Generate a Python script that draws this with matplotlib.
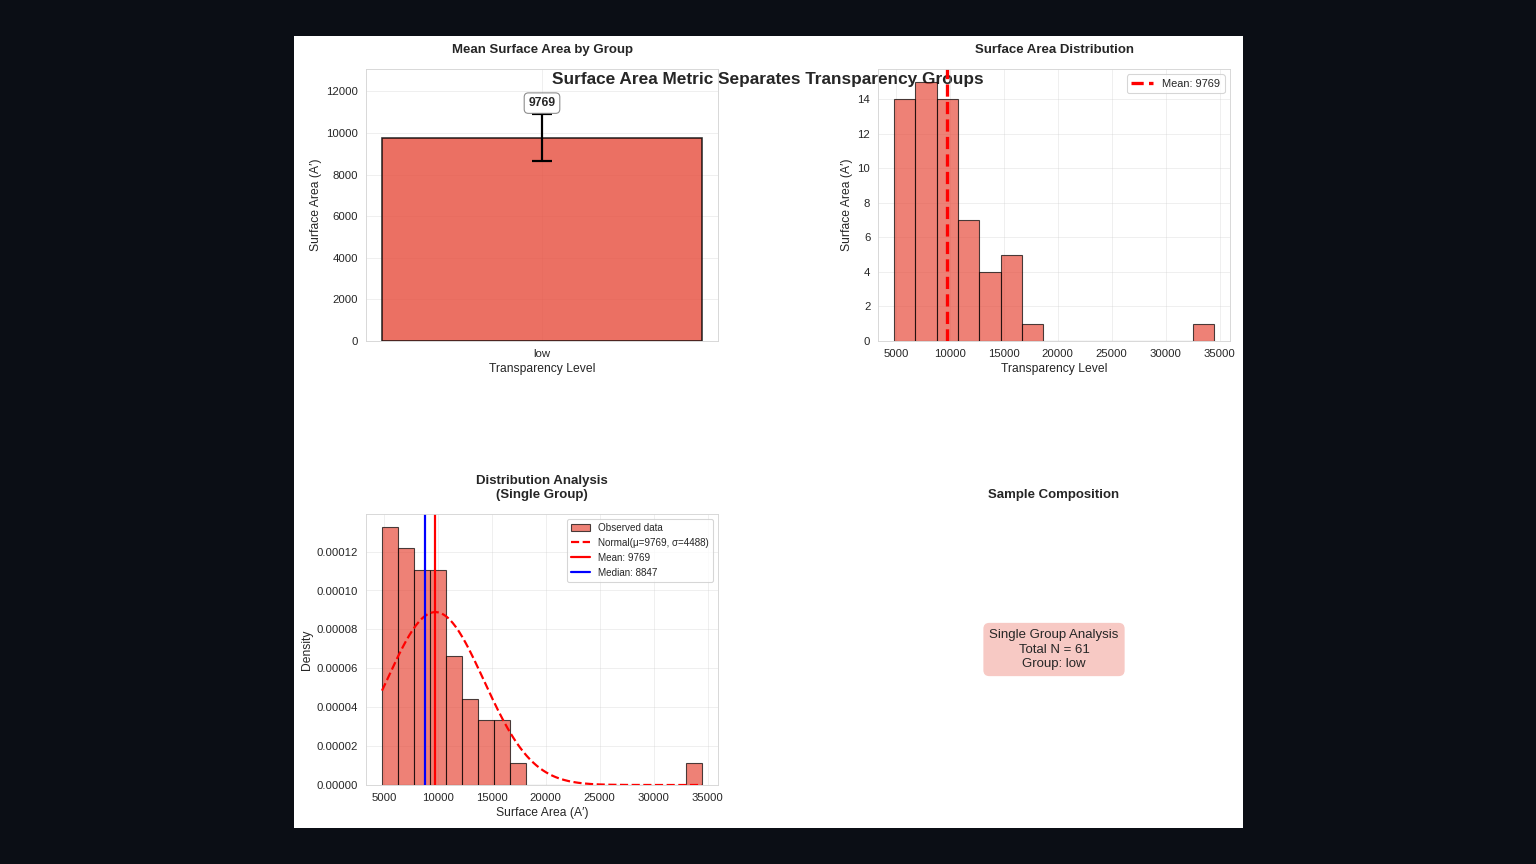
import numpy as np
import matplotlib
matplotlib.use("Agg")
import matplotlib.pyplot as plt
import seaborn as sns
from matplotlib.patches import Rectangle
from matplotlib.ticker import FormatStrFormatter

# ---------------- data ----------------
group_labels = ["low"]
group_means = [9769]
group_ci = [1126]
n_total = 61
mean_val = 9769
median_val = 8847
std_val = 4488
data_min = 4830
data_max = 34480
counts_15 = [14, 15, 14, 7, 4, 5, 1, 0, 0, 0, 0, 0, 0, 0, 1]
counts_20 = [12, 11, 10, 10, 6, 4, 3, 3, 1, 0, 0, 0, 0, 0, 0, 0, 0, 0, 0, 1]

# ---------------- style ----------------
sns.set_style("whitegrid")
plt.rcParams["font.family"] = ["Liberation Sans", "DejaVu Sans"]
plt.rcParams["text.color"] = "#262626"
plt.rcParams["axes.labelcolor"] = "#262626"
plt.rcParams["xtick.color"] = "#262626"
plt.rcParams["ytick.color"] = "#262626"

W, H = 1536, 864
DPI = 79.2
fig = plt.figure(figsize=(W / DPI + 1e-4, H / DPI + 1e-4), dpi=DPI, facecolor="#0b0e15")
fig.add_artist(Rectangle((294 / W, 1 - 828 / H), 949 / W, 792 / H,
                         transform=fig.transFigure, facecolor="white",
                         edgecolor="none", zorder=-2))


def pos(x0, y0, x1, y1):
    return [x0 / W, 1 - y1 / H, (x1 - x0) / W, (y1 - y0) / H]


bar_color = "#e74c3c"
TICK = 10.3
LAB = 11
TIT = 12
PAD = 14.5


def style_axes(ax):
    ax.tick_params(labelsize=TICK)
    ax.grid(True, alpha=0.35)
    for s in ax.spines.values():
        s.set_color("#d5d5d5")


# ---------------- top-left: bar ----------------
ax1 = fig.add_axes(pos(366, 69, 718, 341))
ax1.set_facecolor("none")
ax1.bar(group_labels, group_means, yerr=group_ci, capsize=9, color=bar_color,
        alpha=0.8, edgecolor="black", linewidth=1.5,
        error_kw=dict(elinewidth=2, capthick=2, ecolor="black"))
for lab, m, e in zip(group_labels, group_means, group_ci):
    ax1.text(lab, m + e + 250, f"{m:.0f}", ha="center", va="bottom",
             fontsize=11, fontweight="bold",
             bbox=dict(boxstyle="round,pad=0.35", facecolor="white",
                       edgecolor="gray", alpha=0.9))
ax1.set_ylim(0, (group_means[0] + group_ci[0]) * 1.2)
ax1.set_title("Mean Surface Area by Group", fontsize=TIT, fontweight="bold", pad=PAD)
ax1.set_xlabel("Transparency Level", fontsize=LAB)
ax1.set_ylabel("Surface Area (A\u2032)", fontsize=LAB)
style_axes(ax1)

# ---------------- top-right: histogram ----------------
edges15 = np.linspace(data_min, data_max, len(counts_15) + 1)
ax2 = fig.add_axes(pos(878, 69, 1230, 341))
ax2.set_facecolor("none")
ax2.hist(edges15[:-1], bins=edges15, weights=counts_15, color=bar_color,
         alpha=0.7, edgecolor="black", linewidth=1)
ax2.axvline(mean_val, color="red", linestyle="--", linewidth=3,
            label=f"Mean: {mean_val:.0f}")
ax2.legend(fontsize=10, loc="upper right")
ax2.set_title("Surface Area Distribution", fontsize=TIT, fontweight="bold", pad=PAD)
ax2.set_xlabel("Transparency Level", fontsize=LAB)
ax2.set_ylabel("Surface Area (A\u2032)", fontsize=LAB)
style_axes(ax2)

# ---------------- bottom-left: density ----------------
edges20 = np.linspace(data_min, data_max, len(counts_20) + 1)
ax3 = fig.add_axes(pos(366, 514, 718, 785))
ax3.hist(edges20[:-1], bins=edges20, weights=counts_20, density=True,
         color=bar_color, alpha=0.7, edgecolor="black", linewidth=1,
         label="Observed data")
xs = np.linspace(data_min, data_max, 200)
pdf = np.exp(-0.5 * ((xs - mean_val) / std_val) ** 2) / (std_val * np.sqrt(2 * np.pi))
ax3.plot(xs, pdf, "r--", linewidth=2,
         label=f"Normal(\u03bc={mean_val:.0f}, \u03c3={std_val:.0f})")
ax3.axvline(mean_val, color="red", linestyle="-", linewidth=2,
            label=f"Mean: {mean_val:.0f}")
ax3.axvline(median_val, color="blue", linestyle="-", linewidth=2,
            label=f"Median: {median_val:.0f}")
ax3.legend(fontsize=9, loc="upper right")
ax3.yaxis.set_major_formatter(FormatStrFormatter("%.5f"))
ax3.set_title("Distribution Analysis\n(Single Group)", fontsize=TIT,
              fontweight="bold", pad=PAD)
ax3.set_xlabel("Surface Area (A\u2032)", fontsize=LAB)
ax3.set_ylabel("Density", fontsize=LAB)
style_axes(ax3)

# ---------------- bottom-right: text ----------------
ax4 = fig.add_axes(pos(878, 514, 1230, 785))
ax4.axis("off")
ax4.text(0.5, 0.5,
         f"Single Group Analysis\nTotal N = {n_total}\nGroup: {group_labels[0]}",
         ha="center", va="center", fontsize=12, linespacing=1.3,
         transform=ax4.transAxes,
         bbox=dict(boxstyle="round,pad=0.45", facecolor=bar_color, alpha=0.3,
                   edgecolor="none"))
ax4.set_title("Sample Composition", fontsize=TIT, fontweight="bold", pad=PAD)

# ---------------- suptitle ----------------
fig.text(768 / W, 1 - 79 / H, "Surface Area Metric Separates Transparency Groups",
         ha="center", va="center", fontsize=15.7, fontweight="bold",
         color="#262626", zorder=-1)

fig.savefig("out.png", dpi=DPI, facecolor=fig.get_facecolor())
